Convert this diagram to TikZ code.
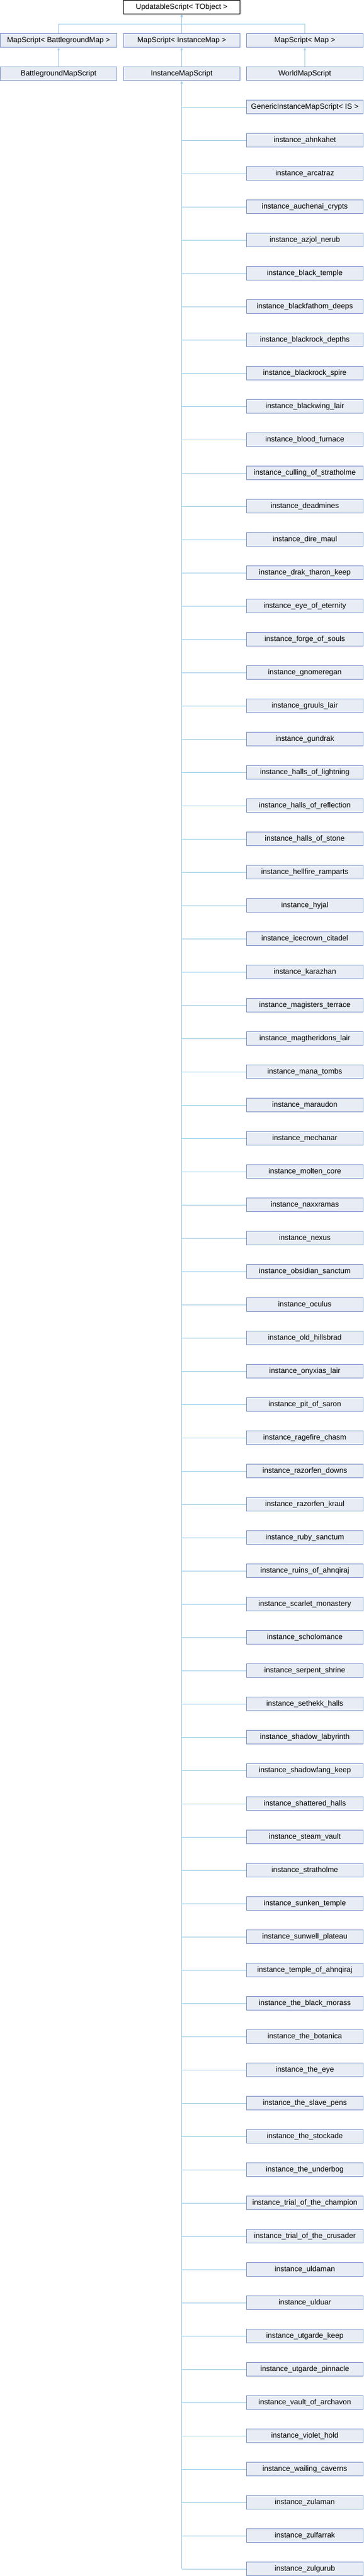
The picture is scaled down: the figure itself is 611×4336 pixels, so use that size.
\documentclass[tikz,border=0pt]{standalone}
\usepackage{fontspec}
\setmainfont{Liberation Sans}
\usetikzlibrary{arrows.meta}

\definecolor{boxfill}{HTML}{E8ECF5}
\definecolor{boxedge}{HTML}{7B93CB}
\definecolor{linkblue}{HTML}{9ACBE6}

\tikzset{
	classbox/.style={draw=boxedge,fill=boxfill,line width=1pt,minimum width=196pt,
		minimum height=23pt,inner sep=0pt,font=\fontsize{12.5}{14}\selectfont},
	topbox/.style={classbox,draw=black,fill=white},
	link/.style={draw=linkblue,line width=1pt}
}

\begin{document}
\begin{tikzpicture}[x=1pt,y=-1pt,>={Latex[length=4.5pt,width=4.5pt]}]
		\useasboundingbox (0,0) rectangle (611,4336);

		% draw the base class
		\node[topbox] (upd) at (305.5,12) {UpdatableScript< TObject >};

		% draw the map scripts
		\node[classbox] (msbg) at (98.5,68) {MapScript< BattlegroundMap >};
		\node[classbox] (msinst) at (305.5,68) {MapScript< InstanceMap >};
		\node[classbox] (msmap) at (512.5,68) {MapScript< Map >};

		% draw the concrete map scripts
		\node[classbox] (bgscript) at (98.5,124) {BattlegroundMapScript};
		\node[classbox] (instscript) at (305.5,124) {InstanceMapScript};
		\node[classbox] (worldscript) at (512.5,124) {WorldMapScript};

		% lines up to the base class
		\draw[link,<-] (upd.south) -- ++(0,17) -| (msbg.north);
		\draw[link,<-] (upd.south) -- (msinst.north);
		\draw[link,<-] (upd.south) -- ++(0,17) -| (msmap.north);

		% lines up to the map scripts
		\draw[link,<-] (msbg.south) -- (bgscript.north);
		\draw[link,<-] (msinst.south) -- (instscript.north);
		\draw[link,<-] (msmap.south) -- (worldscript.north);

		% draw each instance script
		\foreach \name [count=\i from 0] in {
		GenericInstanceMapScript< IS >,
		instance\_ahnkahet,
		instance\_arcatraz,
		instance\_auchenai\_crypts,
		instance\_azjol\_nerub,
		instance\_black\_temple,
		instance\_blackfathom\_deeps,
		instance\_blackrock\_depths,
		instance\_blackrock\_spire,
		instance\_blackwing\_lair,
		instance\_blood\_furnace,
		instance\_culling\_of\_stratholme,
		instance\_deadmines,
		instance\_dire\_maul,
		instance\_drak\_tharon\_keep,
		instance\_eye\_of\_eternity,
		instance\_forge\_of\_souls,
		instance\_gnomeregan,
		instance\_gruuls\_lair,
		instance\_gundrak,
		instance\_halls\_of\_lightning,
		instance\_halls\_of\_reflection,
		instance\_halls\_of\_stone,
		instance\_hellfire\_ramparts,
		instance\_hyjal,
		instance\_icecrown\_citadel,
		instance\_karazhan,
		instance\_magisters\_terrace,
		instance\_magtheridons\_lair,
		instance\_mana\_tombs,
		instance\_maraudon,
		instance\_mechanar,
		instance\_molten\_core,
		instance\_naxxramas,
		instance\_nexus,
		instance\_obsidian\_sanctum,
		instance\_oculus,
		instance\_old\_hillsbrad,
		instance\_onyxias\_lair,
		instance\_pit\_of\_saron,
		instance\_ragefire\_chasm,
		instance\_razorfen\_downs,
		instance\_razorfen\_kraul,
		instance\_ruby\_sanctum,
		instance\_ruins\_of\_ahnqiraj,
		instance\_scarlet\_monastery,
		instance\_scholomance,
		instance\_serpent\_shrine,
		instance\_sethekk\_halls,
		instance\_shadow\_labyrinth,
		instance\_shadowfang\_keep,
		instance\_shattered\_halls,
		instance\_steam\_vault,
		instance\_stratholme,
		instance\_sunken\_temple,
		instance\_sunwell\_plateau,
		instance\_temple\_of\_ahnqiraj,
		instance\_the\_black\_morass,
		instance\_the\_botanica,
		instance\_the\_eye,
		instance\_the\_slave\_pens,
		instance\_the\_stockade,
		instance\_the\_underbog,
		instance\_trial\_of\_the\_champion,
		instance\_trial\_of\_the\_crusader,
		instance\_uldaman,
		instance\_ulduar,
		instance\_utgarde\_keep,
		instance\_utgarde\_pinnacle,
		instance\_vault\_of\_archavon,
		instance\_violet\_hold,
		instance\_wailing\_caverns,
		instance\_zulaman,
		instance\_zulfarrak,
		instance\_zulgurub}
			\node[classbox] (inst\i) at (512.5,{180+56*\i}) {\name};

		% the trunk from the instance map script
		\draw[link,<-] (instscript.south) -- (instscript.south |- inst74.west);

		% branches from the trunk to each instance script
		\foreach \i in {0,...,74}
			\draw[link] (instscript.south |- inst\i.west) -- (inst\i.west);
	\end{tikzpicture}
\end{document}
